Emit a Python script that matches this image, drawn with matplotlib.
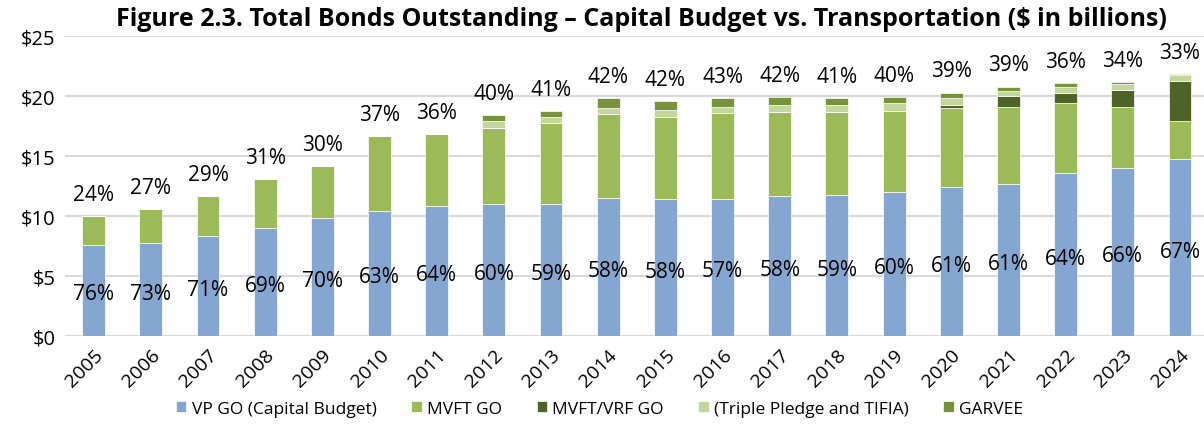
import matplotlib.pyplot as plt
import numpy as np

plt.rcParams['font.family'] = ['Open Sans', 'DejaVu Sans']

years = [str(y) for y in range(2005, 2025)]
vp_go = [7.6, 7.72, 8.3, 9.03, 9.86, 10.45, 10.8, 11.0, 11.0, 11.47,
         11.39, 11.45, 11.65, 11.75, 12.0, 12.4, 12.7, 13.55, 14.0, 14.75]
mvft_go = [2.4, 2.88, 3.4, 4.02, 4.31, 6.2, 6.03, 6.33, 6.75, 7.03,
           6.86, 7.13, 6.99, 6.92, 6.78, 6.57, 6.41, 5.89, 5.08, 3.19]
mvft_vrf = [0, 0, 0, 0, 0, 0, 0, 0, 0, 0,
            0, 0, 0, 0, 0, 0.31, 0.86, 0.86, 1.45, 3.31]
triple = [0, 0, 0, 0, 0, 0, 0, 0.57, 0.5, 0.53,
          0.58, 0.52, 0.64, 0.58, 0.64, 0.58, 0.47, 0.5, 0.5, 0.5]
garvee = [0, 0, 0, 0, 0, 0, 0, 0.5, 0.53, 0.8,
          0.77, 0.73, 0.66, 0.58, 0.52, 0.44, 0.36, 0.26, 0.17, 0.08]
vp_share = [76, 73, 71, 69, 70, 63, 64, 60, 59, 58,
            58, 57, 58, 59, 60, 61, 61, 64, 66, 67]

series = [
    ('VP GO (Capital Budget)', vp_go, '#84A6D1'),
    ('MVFT GO', mvft_go, '#9BBB59'),
    ('MVFT/VRF GO', mvft_vrf, '#4F6228'),
    ('(Triple Pledge and TIFIA)', triple, '#C3D69B'),
    ('GARVEE', garvee, '#77933C'),
]

fig = plt.figure(figsize=(12.04, 4.27), dpi=100)
ax = fig.add_axes([0.054, 0.211, 0.946, 0.702])

x = np.arange(len(years))
bottom = np.zeros(len(years))
for name, vals, col in series:
    ax.bar(x, vals, 0.4, bottom=bottom, color=col, label=name,
           edgecolor='white', linewidth=0.5, zorder=3)
    bottom += np.array(vals)

# percentage labels
for i in x:
    ax.text(i, vp_go[i] / 2 - 0.3, f'{vp_share[i]}%', ha='center', va='center',
            fontsize=15, zorder=4)
    ax.text(i, bottom[i] + 1.8, f'{100 - vp_share[i]}%', ha='center', va='center',
            fontsize=15, zorder=4)

ax.set_ylim(0, 25)
ax.set_xlim(-0.5, 19.42)
ax.set_yticks([0, 5, 10, 15, 20, 25])
ax.set_yticklabels(['$0', '$5', '$10', '$15', '$20', '$25'], fontsize=14.5)
ax.set_xticks(x)
ax.set_xticklabels(years, rotation=45, ha='right', rotation_mode='anchor', fontsize=14)
ax.tick_params(length=0, pad=7)
ax.grid(axis='y', color='#D9D9D9', linewidth=1.5, zorder=0)
for s in ax.spines.values():
    s.set_visible(False)

fig.text(0.533, 0.955,
         'Figure 2.3. Total Bonds Outstanding – Capital Budget vs. Transportation ($ in billions)',
         fontsize=18, fontweight='bold', ha='center', va='center')
fig.legend(loc='lower center', bbox_to_anchor=(0.498, -0.015), ncol=5, frameon=False,
           fontsize=12.5, handlelength=0.6, handleheight=0.6, columnspacing=2.0,
           handletextpad=0.3)

fig.savefig('out.png', dpi=100)
